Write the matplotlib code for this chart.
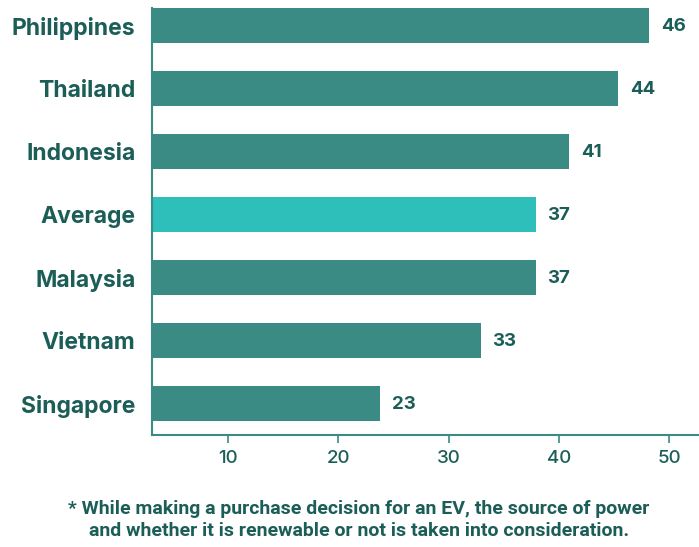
import matplotlib
matplotlib.use("Agg")
import matplotlib.pyplot as plt

# Data
countries = ["Philippines", "Thailand", "Indonesia", "Average", "Malaysia", "Vietnam", "Singapore"]
value_labels = [46, 44, 41, 37, 37, 33, 23]
# bar lengths as they appear against the x axis
bar_lengths = [48.2, 45.4, 40.9, 37.9, 37.9, 32.9, 23.8]
highlight = "Average"
xticks = [10, 20, 30, 40, 50]
footnote = ("* While making a purchase decision for an EV, the source of power\n"
            "and whether it is renewable or not is taken into consideration.")

BAR = "#3a8b84"
HIGH = "#2fbfbb"
TEXT = "#1b5e57"
AXIS = "#3a8b84"

plt.rcParams["font.family"] = ["Inter", "DejaVu Sans"]

fig = plt.figure(figsize=(6.99, 5.47), dpi=100)
ax = fig.add_axes([152 / 699, 1 - 435 / 547, 547 / 699, 427 / 547])

ypos = list(range(len(countries)))
colors = [HIGH if c == highlight else BAR for c in countries]
bars = ax.barh(ypos, bar_lengths, height=0.556, color=colors, left=0)

for y, length, lab in zip(ypos, bar_lengths, value_labels):
    ax.annotate(str(lab), xy=(length, y), xytext=(8.5, -1), textcoords="offset points",
                ha="left", va="center", fontsize=13.5, fontweight="bold", color=TEXT)

ax.set_xlim(3.1, 52.7)
ax.set_ylim(6.5, -0.278)
ax.set_yticks(ypos)
ax.set_yticklabels(countries, fontsize=16.5, fontweight="bold", color=TEXT)
ax.tick_params(axis="y", length=0, pad=12)
ax.set_xticks(xticks)
ax.set_xticklabels([str(t) for t in xticks], fontsize=13.5, fontweight="medium", color=TEXT)
ax.tick_params(axis="x", length=6, width=1.2, color=AXIS, pad=5)

for s in ["top", "right"]:
    ax.spines[s].set_visible(False)
for s in ["left", "bottom"]:
    ax.spines[s].set_color(AXIS)
    ax.spines[s].set_linewidth(1.5)

fig.text(359 / 699, 1 - 520 / 547, footnote, ha="center", va="center",
         fontsize=14, fontweight="bold", color=TEXT, linespacing=1.25,
         family=["Roboto", "DejaVu Sans"])

fig.savefig("out.png", dpi=100)
